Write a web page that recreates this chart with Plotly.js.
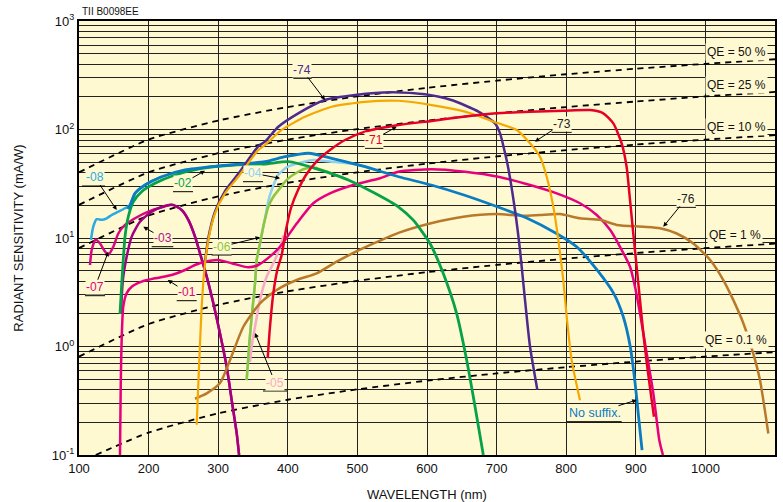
<!DOCTYPE html>
<html>
<head>
<meta charset="utf-8">
<script src="https://cdn.plot.ly/plotly-3.0.1.min.js"></script>
<style>html,body{margin:0;padding:0;background:#fff;}#chart{width:783px;height:502px;}</style>
</head>
<body>
<div id="chart"></div>
<script>
// ---------------- DATA ----------------
// QE reference lines (mA/W) at wavelengths (nm)
const qeWl = [100, 200, 300, 400, 500, 600, 700, 800, 900, 1000, 1100];
const qe50 = [40.3, 80.7, 121, 161, 202, 242, 282, 323, 363, 403, 444];
const qe25 = [20.2, 40.3, 60.5, 80.7, 101, 121, 141, 161, 181, 202, 222];
const qe10 = [8.07, 16.1, 24.2, 32.3, 40.3, 48.4, 56.5, 64.5, 72.6, 80.7, 88.7];
const qe1 = [0.807, 1.61, 2.42, 3.23, 4.03, 4.84, 5.65, 6.45, 7.26, 8.07, 8.87];
const qe01Wl = [124, 200, 300, 400, 500, 600, 700, 800, 900, 1000, 1100];
const qe01 = [0.1, 0.161, 0.242, 0.323, 0.403, 0.484, 0.565, 0.645, 0.726, 0.807, 0.887];

// No suffix
const wlNo = [170, 173.3, 180.5, 194.8, 218.8, 252.3, 300, 367, 396, 430, 463, 511, 559, 606, 653, 701, 744, 786, 815, 844, 868, 882, 892, 899, 904, 909];
const sNo = [18.5, 20.1, 25.8, 30.8, 36.7, 42.4, 46.1, 50.5, 56.1, 60.4, 54.3, 45.4, 36.7, 30.8, 24.9, 19.4, 15.2, 11.0, 8.3, 5.1, 3.1, 1.88, 1.0, 0.46, 0.225, 0.111];
// -08
const wl08 = [117.2, 120.5, 125.4, 132.6, 139.8, 147, 156.5, 166.1, 173.3, 180.5, 194.8, 218.8];
const s08 = [9.6, 12.7, 14.9, 14.7, 15.2, 16.3, 17.5, 18.8, 20.1, 25.8, 30.8, 36.7];
// -02
const wl02 = [158.9, 161.4, 163.6, 166.1, 170.8, 178, 190, 209.2, 237.9, 276.3, 324.1, 367.2, 400.7, 439.1, 486.9, 525.3, 558.8, 580.3, 604.3, 623.4, 642.7, 657, 669, 680.9];
const s02 = [2.0, 3.8, 6.3, 10.3, 15.7, 21.6, 26.7, 31.9, 38.1, 43.9, 47.1, 48.1, 50.5, 43.9, 34.3, 25.8, 19.4, 14.6, 8.9, 4.7, 2.0, 0.75, 0.28, 0.1];
// -01
const wl01 = [158.9, 160, 161.4, 163.6, 168.4, 175.7, 190, 209.2, 233.2, 252.3, 266.7, 281, 300.1, 319.4, 343.2, 357.6, 375, 388.8, 412.8, 436.6, 460.6, 494.1, 532.5, 558.8, 606.8, 654.6, 702.4, 748, 786.4, 819.8, 843.9, 863, 877.3, 891.7, 898.9, 906, 915.7, 925.2, 933.8, 939];
const s01 = [0.1, 0.46, 1.23, 2.33, 3.1, 3.56, 3.96, 4.25, 4.56, 5.07, 5.64, 6.05, 6.27, 5.85, 5.37, 5.64, 6.8, 8.3, 13.6, 20.9, 25.8, 30.8, 35.5, 40.8, 43, 40.8, 36.7, 30.8, 25.8, 20.9, 16.3, 11.9, 8.3, 5.43, 3.56, 2.02, 0.86, 0.37, 0.137, 0.1];
// -03
const wl03 = [160.5, 161.4, 163.6, 168.4, 175.7, 187.6, 204.5, 223.6, 235.5, 247.6, 257.1, 266.7, 273.9, 283.5, 293, 302.6, 312.2, 319.4, 326.6, 330];
const s03 = [2.0, 2.88, 4.4, 6.7, 10.3, 14.1, 17.5, 19.7, 20.2, 18.1, 14.7, 10.3, 7.2, 4.4, 2.5, 1.32, 0.65, 0.32, 0.158, 0.1];
// -07
const wl07 = [115.8, 118.2, 124, 130.2, 137.4, 142.1, 149.3, 156.5, 166.1, 180.5, 199.6, 218.8, 233.2, 247.6, 257.1, 266.7, 273.9, 283.5, 293, 302.6, 312.2, 319.4, 326.6, 330];
const s07 = [5.64, 7.75, 9.7, 8.9, 7.5, 7.0, 8.3, 11.0, 13.2, 15.2, 17.5, 19.2, 20.2, 18.1, 14.7, 10.3, 7.2, 4.4, 2.5, 1.32, 0.65, 0.32, 0.158, 0.1];
// -04
const wl04 = [340.9, 344.7, 348.1, 352.9, 355.3, 360, 364.8, 368, 372, 378.4, 386, 398.9, 421.8, 436, 463, 495, 520];
const s04 = [0.49, 1.07, 1.88, 3.82, 6.27, 8.9, 12.7, 16.0, 22.0, 29.5, 38.0, 45.0, 50.1, 52.4, 50.5, 48.0, 44.0];
// -06
const wl06 = [340.9, 344.7, 348.1, 352.9, 355.3, 360, 364.8, 372, 379.2, 391, 398.3, 415, 427.1, 439, 460, 486.9];
const s06 = [0.49, 1.07, 1.88, 3.82, 6.27, 8.9, 12.7, 19.4, 24, 30, 34.3, 40.8, 43.9, 44.5, 40, 34.3];
// -05
const wl05 = [345.7, 349, 352.9, 360, 369.6, 381.6, 388.8, 394];
const s05 = [0.72, 1.1, 1.52, 2.69, 4.4, 6.27, 8.3, 10.5];
// -71
const wl71 = [371.1, 374.4, 379.2, 384.9, 391.2, 397.4, 404.6, 414.7, 426.1, 440.5, 460.6, 482.2, 510.9, 558.8, 606.8, 652, 700, 748, 795.8, 834.2, 853.3, 867.7, 879.7, 886.8, 891.7, 896.4, 901.2, 906, 910.8, 916.5, 922.8, 926.1];
const s71 = [0.78, 1.52, 3.09, 5.07, 6.97, 11.9, 18.9, 27.7, 38.1, 50.1, 64.7, 80, 95.5, 110, 120, 131, 141, 146, 149, 151, 141, 114, 74.6, 45.4, 22.4, 11.0, 5.43, 2.69, 1.32, 0.65, 0.32, 0.225];
// -74
const wl74 = [281, 285.8, 295.4, 309.8, 328.9, 357.6, 367.2, 386.4, 415, 453, 497, 549, 597, 635, 674, 697.7, 705, 711, 716.8, 726.4, 733.6, 740.8, 748, 758.5];
const s74 = [6.0, 10.0, 17.5, 27.0, 39.0, 70.0, 77.3, 106, 141, 187, 208, 220, 211, 187, 146, 114, 92, 65, 44, 18.1, 7.75, 2.69, 1.0, 0.40];
// -73
const wl73 = [269.1, 271.5, 273.9, 276.3, 280.1, 285.8, 295.4, 309.8, 328.9, 357.6, 367.2, 391.2, 424.7, 463, 510.9, 558.8, 606.8, 654.6, 702.4, 728.9, 748, 762.4, 772, 781.5, 788.7, 795.8, 800.7, 807.8, 819.8];
const s73 = [0.19, 0.46, 1.07, 2.33, 5.07, 9.6, 16.9, 25.8, 36.7, 64.7, 72, 99, 131, 162, 180, 184, 168, 146, 114, 99, 74.6, 56.1, 36.7, 19.4, 9.6, 4.1, 1.88, 0.75, 0.32];
// -76
const wl76 = [266.7, 283.5, 302.6, 317, 336.1, 360, 384, 412.8, 441.5, 470.2, 500, 530, 560, 604.3, 652.2, 700, 738.4, 762.4, 791.1, 819.8, 848.6, 872.6, 910.8, 934.8, 958.8, 982.7, 1006.6, 1025.7, 1040, 1054.5, 1068.8, 1078.4, 1090.4];
const s76 = [0.33, 0.37, 0.46, 0.75, 1.52, 2.5, 3.32, 4.1, 4.72, 6.05, 7.6, 9.3, 11.2, 13.6, 15.7, 16.6, 16.0, 16.3, 16.6, 15.2, 14.7, 13.2, 12.7, 12.3, 11.0, 8.9, 6.3, 4.1, 2.69, 1.64, 0.86, 0.49, 0.158];

const xTicks = [100, 200, 300, 400, 500, 600, 700, 800, 900, 1000, 1100];
const yDecades = [0.1, 1, 10, 100, 1000];
const yDecadeText = ['10<sup>-1</sup>', '10<sup>0</sup>', '10<sup>1</sup>', '10<sup>2</sup>', '10<sup>3</sup>'];

// ---------------- STYLE ----------------
const BG = '#FFF9D2';
const FONT = 'Liberation Sans, Arial, Helvetica, sans-serif';
const W = 783, H = 502, ML = 79, MR = 8, MT = 21, MB = 47;
const PW = W - ML - MR, PH = H - MT - MB;
const px = x => (x - ML) / PW;
const py = y => (H - MB - y) / PH;

// minor grid values 2..9 x 10^n
const yMinor = [];
for (let d = -1; d <= 2; d++) {
  for (let m = 2; m <= 9; m++) yMinor.push(+(m * Math.pow(10, d)).toPrecision(3));
}

const traces = [];
function qe(x, y) {
  traces.push({x: x, y: y, mode: 'lines', line: {color: '#000', width: 1.8, dash: '6px,5px', shape: 'spline', smoothing: 0.6}, hoverinfo: 'skip'});
}
qe(qeWl, qe50); qe(qeWl, qe25); qe(qeWl, qe10); qe(qeWl, qe1); qe(qe01Wl, qe01);

function curve(x, y, c, w) {
  traces.push({x: x, y: y, mode: 'lines', line: {color: c, width: w || 2.5, shape: 'spline', smoothing: 0.6}, hoverinfo: 'skip'});
}
curve(wl05, s05, '#F6A9C8');
curve(wl04, s04, '#8DD0F2');
curve(wl06, s06, '#8CC63E');
curve(wl08, s08, '#2BA9E1');
curve(wl07, s07, '#D5097F');
curve(wl03, s03, '#A1007F');
curve(wl01, s01, '#E6007E');
curve(wl76, s76, '#B8792B');
curve(wl02, s02, '#07A14A', 2.8);
curve(wlNo, sNo, '#0A7CC1', 2.8);
curve(wl74, s74, '#4F2A8E');
curve(wl73, s73, '#F5A800', 2.2);
curve(wl71, s71, '#E60026');

// labels: [text, color, textX, underlineX0, underlineX1, underlineY, headX, headY, fontSize]
const labels = [
  ['-08', '#2BA9E1', 95, 82, 105, 186, 116.7, 210, 12],
  ['-02', '#07A14A', 183, 173, 193, 191.7, 205, 170.7, 12],
  ['-03', '#B0158A', 163, 151.7, 173.3, 246.7, 143.3, 226.7, 12],
  ['-07', '#E4007F', 95, 85, 105, 295.7, 108.3, 251.7, 12],
  ['-01', '#E4007F', 187, 176.7, 196.7, 300.7, 167.7, 280, 12],
  ['-06', '#8CC63E', 222, 211.7, 231.7, 255, 260, 237.3, 12],
  ['-04', '#8DD0F2', 253, 243, 263, 181.7, 280, 178.3, 12],
  ['-05', '#F6A9C8', 275, 263, 287, 391, 255, 333, 12],
  ['-74', '#4F2A8E', 302, 293.3, 311.7, 78.3, 325, 100, 12],
  ['-71', '#E60026', 373.5, 365, 383.3, 148.3, 396.7, 126.7, 12],
  ['-73', '#222', 562, 551.7, 571.7, 132.3, 535, 141.7, 12],
  ['-76', '#222', 686, 676.7, 696, 207.3, 663.3, 226.7, 12],
  ['No suffix.', '#0A7CC1', 594.5, 566.7, 621.7, 421.7, 636.7, 400, 12.5]
];
const qeLabels = [
  ['QE = 50 %', 736, 51.7],
  ['QE = 25 %', 736, 85],
  ['QE = 10 %', 736, 127],
  ['QE = 1 %', 735, 234.5],
  ['QE = 0.1 %', 735.5, 340]
];

const annotations = [], shapes = [];
labels.forEach(l => {
  const [txt, col, tx, u0, u1, uy, hx, hy, fs] = l;
  const ty = uy - 8.5;
  shapes.push({type: 'line', xref: 'paper', yref: 'paper', x0: px(u0), x1: px(u1), y0: py(uy), y1: py(uy), line: {color: '#000', width: 1}});
  annotations.push({xref: 'paper', yref: 'paper', x: px(hx), y: py(hy), ax: tx - hx, ay: ty - hy,
    text: txt, showarrow: true, arrowhead: 2, arrowsize: 0.9, arrowwidth: 1, arrowcolor: '#000', standoff: 0,
    xanchor: 'center', yanchor: 'middle', font: {family: FONT, size: fs, color: col}, bgcolor: BG, borderpad: 0});
});
qeLabels.forEach(l => {
  annotations.push({xref: 'paper', yref: 'paper', x: px(l[1]), y: py(l[2]), text: l[0], showarrow: false, xanchor: 'center', yanchor: 'middle', font: {family: FONT, size: 12, color: '#111'}, bgcolor: BG, borderpad: 1});
});
annotations.push({xref: 'paper', yref: 'paper', x: px(80), y: py(11.5), text: 'TII B0098EE', showarrow: false, xanchor: 'left', yanchor: 'middle', font: {family: FONT, size: 10, color: '#111'}});

const layout = {
  width: W, height: H,
  margin: {l: ML, r: MR, t: MT, b: MB, pad: 0},
  paper_bgcolor: '#fff', plot_bgcolor: BG,
  showlegend: false, hovermode: false,
  font: {family: FONT, size: 13, color: '#111'},
  xaxis: {
    range: [100, 1100], tickvals: xTicks, ticktext: xTicks.map(String),
    showgrid: true, gridcolor: '#222', gridwidth: 1, zeroline: false,
    showline: true, linecolor: '#000', linewidth: 2, mirror: true, ticks: '',
    tickfont: {family: FONT, size: 13, color: '#111'},
    title: {text: 'WAVELENGTH (nm)', font: {family: FONT, size: 13, color: '#111'}, standoff: 16},
    automargin: false
  },
  yaxis: {
    type: 'log', range: [-1, 3], tickvals: yDecades, ticktext: yDecadeText,
    showgrid: true, gridcolor: '#222', gridwidth: 1, zeroline: false,
    minor: {tickmode: 'array', tickvals: yMinor, showgrid: true, gridcolor: '#222', gridwidth: 1, ticks: ''},
    showline: true, linecolor: '#000', linewidth: 2, mirror: true, ticks: '',
    tickfont: {family: FONT, size: 13, color: '#111'},
    title: {text: 'RADIANT SENSITIVITY (mA/W)', font: {family: FONT, size: 13, color: '#111'}, standoff: 25},
    automargin: false
  },
  shapes: shapes,
  annotations: annotations
};

Plotly.newPlot('chart', traces, layout, {displayModeBar: false, staticPlot: true});
</script>
</body>
</html>
